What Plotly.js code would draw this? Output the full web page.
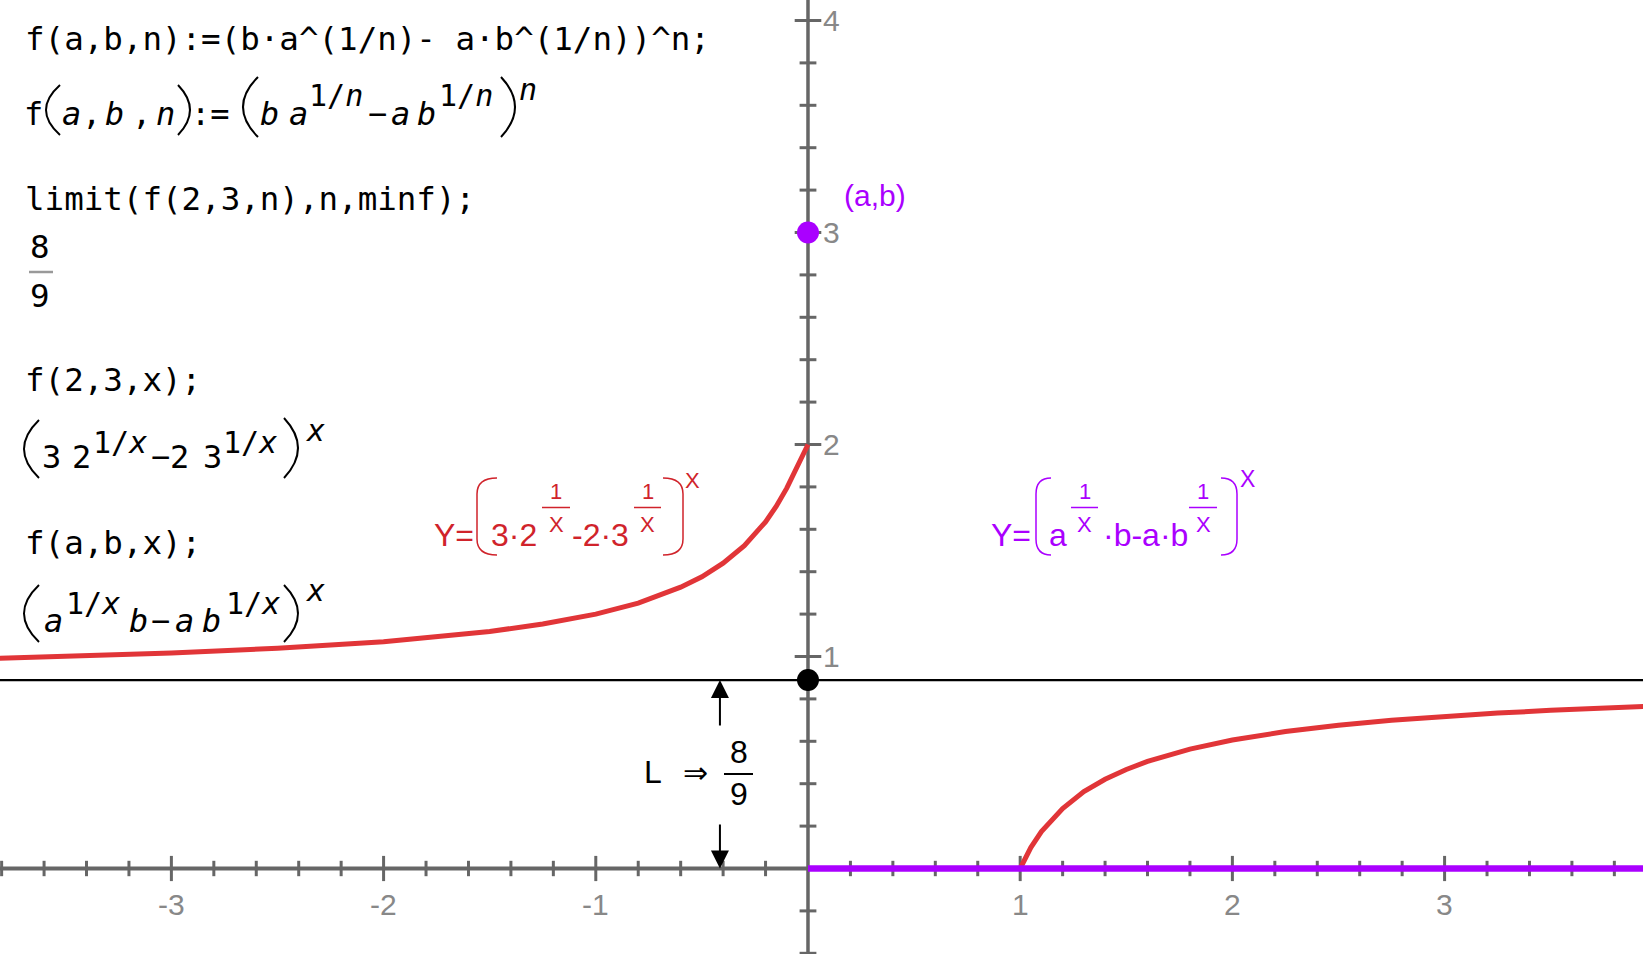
<!DOCTYPE html>
<html>
<head>
<meta charset="utf-8">
<script src="https://cdn.plot.ly/plotly-3.0.1.min.js"></script>
<style>html,body{margin:0;padding:0;background:#fff;overflow:hidden}</style>
</head>
<body>
<div id="chart" style="width:1643px;height:954px"></div>
<script>
// ---------------- data ----------------
const xCurveNeg = [-3.81, -3.5, -3, -2.5, -2, -1.5, -1.25, -1, -0.8, -0.6, -0.5, -0.4, -0.3, -0.2, -0.15, -0.1, -0.05, -0.02, 0];
const yCurveNeg = [0.992, 1.001, 1.017, 1.039, 1.070, 1.118, 1.153, 1.200, 1.252, 1.327, 1.376, 1.440, 1.523, 1.635, 1.708, 1.794, 1.893, 1.957, 2.0];
const xCurvePos = [1, 1.05, 1.1, 1.2, 1.3, 1.4, 1.5, 1.6, 1.8, 2, 2.25, 2.5, 2.75, 3, 3.25, 3.5, 3.75, 3.95];
const yCurvePos = [0, 0.099, 0.174, 0.283, 0.363, 0.421, 0.467, 0.505, 0.563, 0.606, 0.646, 0.676, 0.699, 0.718, 0.733, 0.746, 0.756, 0.765];
const rayX = [0, 3.95];
const rayY = [0, 0];
const limitL = 0.8889;            // 8/9
const pointABx = [0];
const pointABy = [3];
const xAxisSpan = [-3.81, 3.95];
const yAxisSpan = [-0.41, 4.1];
const xMajorTicks = [-3, -2, -1, 1, 2, 3];
const xTickText = ['-3', '-2', '-1', '1', '2', '3'];
const yMajorTicks = [1, 2, 3, 4];
const yTickText = ['1', '2', '3', '4'];
const xMinorTicks = [-3.8,-3.6,-3.4,-3.2,-2.8,-2.6,-2.4,-2.2,-1.8,-1.6,-1.4,-1.2,-0.8,-0.6,-0.4,-0.2,0.2,0.4,0.6,0.8,1.2,1.4,1.6,1.8,2.2,2.4,2.6,2.8,3.2,3.4,3.6,3.8];
const yMinorTicks = [-0.4,-0.2,0.2,0.4,0.6,0.8,1.2,1.4,1.6,1.8,2.2,2.4,2.6,2.8,3.2,3.4,3.6,3.8];
const arrowX = -0.415;
const arrowUpTail = 0.667;
const arrowDownTail = 0.215;

// ---------------- styling ----------------
const W = 1643, H = 954;
const MONO = 'DejaVu Sans Mono';
const SANS = 'Liberation Sans, Arial, Helvetica, sans-serif';
const AXIS = '#666666', LABEL = '#888888';
const RED = '#E13538', RED_TXT = '#D0232B', PURPLE = '#AA00FF';
const MS = 32.5;   // mono text size
const TICKFONT = 30;

const px = v => v / W;
const py = v => 1 - v / H;

function txt(text, x, y, size, opts) {
  const o = opts || {};
  return {
    text: text, xref: 'paper', yref: 'paper', x: px(x), y: py(y),
    xanchor: o.xanchor || 'left', yanchor: 'middle', showarrow: false,
    borderpad: 0, borderwidth: 0,
    font: { family: o.family || MONO, size: size, color: o.color || '#000' }
  };
}
function hline(x0, x1, y, color, w) {
  return { type: 'line', xref: 'paper', yref: 'paper', x0: px(x0), x1: px(x1), y0: py(y), y1: py(y),
           line: { color: color, width: w } };
}
function arcParen(xe, xv, yt, yb, color, w) {
  const xc = 2 * xv - xe;
  return { type: 'path', xref: 'paper', yref: 'paper',
    path: `M ${px(xe)},${py(yt)} Q ${px(xc)},${py((yt + yb) / 2)} ${px(xe)},${py(yb)}`,
    line: { color: color, width: w } };
}
function roundParen(xe, xv, yt, yb, r, color, w) {
  return { type: 'path', xref: 'paper', yref: 'paper',
    path: `M ${px(xe)},${py(yt)} Q ${px(xv)},${py(yt)} ${px(xv)},${py(yt + r)} L ${px(xv)},${py(yb - r)} Q ${px(xv)},${py(yb)} ${px(xe)},${py(yb)}`,
    line: { color: color, width: w } };
}

// ---------------- traces ----------------
const traces = [
  { x: xAxisSpan, y: [0, 0], mode: 'lines', line: { color: AXIS, width: 4 } },
  { x: [0, 0], y: yAxisSpan, mode: 'lines', line: { color: AXIS, width: 3.5 } },
  { x: xMinorTicks, y: xMinorTicks.map(() => 0), mode: 'markers',
    marker: { symbol: 'line-ns', size: 11, line: { color: AXIS, width: 3 } } },
  { x: xMajorTicks, y: xMajorTicks.map(() => 0), mode: 'markers',
    marker: { symbol: 'line-ns', size: 18, line: { color: AXIS, width: 3 } } },
  { x: yMinorTicks.map(() => 0), y: yMinorTicks, mode: 'markers',
    marker: { symbol: 'line-ew', size: 12, line: { color: AXIS, width: 3 } } },
  { x: yMajorTicks.map(() => 0), y: yMajorTicks, mode: 'markers',
    marker: { symbol: 'line-ew', size: 19, line: { color: AXIS, width: 3 } } },
  { x: xAxisSpan, y: [limitL, limitL], mode: 'lines', line: { color: '#000', width: 2.2 } },
  { x: xCurveNeg, y: yCurveNeg, mode: 'lines', line: { color: RED, width: 5 } },
  { x: xCurvePos, y: yCurvePos, mode: 'lines', line: { color: RED, width: 5 } },
  { x: rayX, y: rayY, mode: 'lines', line: { color: PURPLE, width: 6.5 } },
  { x: [0], y: [limitL], mode: 'markers', marker: { color: '#000', size: 22 } },
  { x: pointABx, y: pointABy, mode: 'markers', marker: { color: PURPLE, size: 22 } }
];

// ---------------- annotations ----------------
const ann = [];
xMajorTicks.forEach((v, i) => ann.push({ x: v, y: 0, xref: 'x', yref: 'y', yshift: -36, text: xTickText[i],
  showarrow: false, xanchor: 'center', yanchor: 'middle', font: { family: SANS, size: TICKFONT, color: LABEL } }));
yMajorTicks.forEach((v, i) => ann.push({ x: 0, y: v, xref: 'x', yref: 'y', xshift: 13, text: yTickText[i],
  showarrow: false, xanchor: 'left', yanchor: 'middle', font: { family: SANS, size: TICKFONT, color: LABEL } }));

// (a,b) label
ann.push(txt('(a,b)', 844, 195, 30, { family: SANS, color: PURPLE }));

// arrows for L
ann.push({ x: arrowX, y: limitL, ax: arrowX, ay: arrowUpTail, xref: 'x', yref: 'y', axref: 'x', ayref: 'y',
  text: '', showarrow: true, arrowhead: 2, arrowsize: 1.8, arrowwidth: 2, arrowcolor: '#000', standoff: 0 });
ann.push({ x: arrowX, y: 0, ax: arrowX, ay: arrowDownTail, xref: 'x', yref: 'y', axref: 'x', ayref: 'y',
  text: '', showarrow: true, arrowhead: 2, arrowsize: 1.8, arrowwidth: 2, arrowcolor: '#000', standoff: 0 });
ann.push(txt('L', 644, 772, 32, { family: SANS }));
ann.push(txt('⇒', 683, 772, 30, { family: 'DejaVu Sans' }));
ann.push(txt('8', 738.5, 752, 32, { family: SANS, xanchor: 'center' }));
ann.push(txt('9', 738.5, 794, 32, { family: SANS, xanchor: 'center' }));

// left column (Maxima session)
ann.push(txt('f(a,b,n):=(b·a^(1/n)- a·b^(1/n))^n;', 25, 39, MS));
// line 2
ann.push(txt('f', 24, 114, 32));
ann.push(txt('<i>a</i>', 62, 114, 32));
ann.push(txt(',', 82, 114, 32));
ann.push(txt('<i>b</i>', 105, 114, 32));
ann.push(txt(',', 132, 114, 32));
ann.push(txt('<i>n</i>', 156, 114, 32));
ann.push(txt(':=', 191, 114, 32));
ann.push(txt('<i>b</i>', 260, 114, 32));
ann.push(txt('<i>a</i>', 289, 114, 32));
ann.push(txt('1/<i>n</i>', 309, 96, 30));
ann.push(txt('−', 368, 114, 32));
ann.push(txt('<i>a</i>', 391, 114, 32));
ann.push(txt('<i>b</i>', 417, 114, 32));
ann.push(txt('1/<i>n</i>', 439, 96, 30));
ann.push(txt('<i>n</i>', 519, 90, 30));
// line 3, 4
ann.push(txt('limit(f(2,3,n),n,minf);', 25, 199, MS));
ann.push(txt('8', 40, 247, MS, { xanchor: 'center' }));
ann.push(txt('9', 40, 296, MS, { xanchor: 'center' }));
// line 5, 6
ann.push(txt('f(2,3,x);', 25, 380, MS));
ann.push(txt('3', 42, 457, 32));
ann.push(txt('2', 72, 457, 32));
ann.push(txt('1/<i>x</i>', 93, 443, 30));
ann.push(txt('−', 151, 457, 32));
ann.push(txt('2', 170, 457, 32));
ann.push(txt('3', 203, 457, 32));
ann.push(txt('1/<i>x</i>', 223, 443, 30));
ann.push(txt('<i>x</i>', 305, 430, 30));
// line 7, 8
ann.push(txt('f(a,b,x);', 25, 543, MS));
ann.push(txt('<i>a</i>', 44, 621, 32));
ann.push(txt('1/<i>x</i>', 66, 603, 30));
ann.push(txt('<i>b</i>', 129, 621, 32));
ann.push(txt('−', 151, 621, 32));
ann.push(txt('<i>a</i>', 175, 621, 32));
ann.push(txt('<i>b</i>', 202, 621, 32));
ann.push(txt('1/<i>x</i>', 226, 603, 30));
ann.push(txt('<i>x</i>', 305, 590, 30));

// red formula
ann.push(txt('Y=', 434, 535, 32, { family: SANS, color: RED_TXT }));
ann.push(txt('3·2', 491, 535, 32, { family: SANS, color: RED_TXT }));
ann.push(txt('1', 556, 491, 22, { family: SANS, color: RED_TXT, xanchor: 'center' }));
ann.push(txt('X', 556, 524, 22, { family: SANS, color: RED_TXT, xanchor: 'center' }));
ann.push(txt('-2·3', 572, 535, 32, { family: SANS, color: RED_TXT }));
ann.push(txt('1', 647.5, 491, 22, { family: SANS, color: RED_TXT, xanchor: 'center' }));
ann.push(txt('X', 647.5, 524, 22, { family: SANS, color: RED_TXT, xanchor: 'center' }));
ann.push(txt('X', 685, 480, 22, { family: SANS, color: RED_TXT }));

// purple formula
ann.push(txt('Y=', 991, 535, 32, { family: SANS, color: PURPLE }));
ann.push(txt('a', 1049, 535, 32, { family: SANS, color: PURPLE }));
ann.push(txt('1', 1084.5, 491, 22, { family: SANS, color: PURPLE, xanchor: 'center' }));
ann.push(txt('X', 1084.5, 524, 22, { family: SANS, color: PURPLE, xanchor: 'center' }));
ann.push(txt('·b-a·b', 1103, 535, 32, { family: SANS, color: PURPLE }));
ann.push(txt('1', 1203, 491, 22, { family: SANS, color: PURPLE, xanchor: 'center' }));
ann.push(txt('X', 1203, 524, 22, { family: SANS, color: PURPLE, xanchor: 'center' }));
ann.push(txt('X', 1240, 479, 23, { family: SANS, color: PURPLE }));

// ---------------- shapes (fraction bars and tall parentheses) ----------------
const shapes = [
  hline(29, 53, 272, '#999999', 2.5),
  hline(724, 753, 774, '#000', 2),
  hline(542, 570, 507.5, RED_TXT, 1.5),
  hline(634, 661, 507.5, RED_TXT, 1.5),
  hline(1071, 1098, 507.5, PURPLE, 1.5),
  hline(1189, 1217, 507.5, PURPLE, 1.5),
  roundParen(497, 477, 478, 555, 16, RED_TXT, 1.5),
  roundParen(663, 683, 478, 555, 16, RED_TXT, 1.5),
  roundParen(1051, 1036, 478, 555, 16, PURPLE, 1.5),
  roundParen(1221, 1237, 478, 555, 16, PURPLE, 1.5),
  arcParen(60, 46, 85, 135, '#000', 2),
  arcParen(178, 190, 85, 135, '#000', 2),
  arcParen(258, 243, 77, 137, '#000', 2),
  arcParen(501, 515, 77, 137, '#000', 2),
  arcParen(39, 24, 420, 478, '#000', 2),
  arcParen(284, 298, 418, 478, '#000', 2),
  arcParen(39, 24, 585, 642, '#000', 2),
  arcParen(284, 298, 585, 642, '#000', 2)
];

const layout = {
  width: W, height: H,
  margin: { l: 0, r: 0, t: 0, b: 0, pad: 0 },
  paper_bgcolor: '#ffffff', plot_bgcolor: '#ffffff',
  showlegend: false, hovermode: false,
  xaxis: { range: [-3.8077, 3.935], visible: false, showgrid: false, zeroline: false, fixedrange: true },
  yaxis: { range: [-0.4033, 4.0967], visible: false, showgrid: false, zeroline: false, fixedrange: true },
  annotations: ann,
  shapes: shapes
};

Plotly.newPlot('chart', traces, layout, { displayModeBar: false, staticPlot: true });
</script>
</body>
</html>
